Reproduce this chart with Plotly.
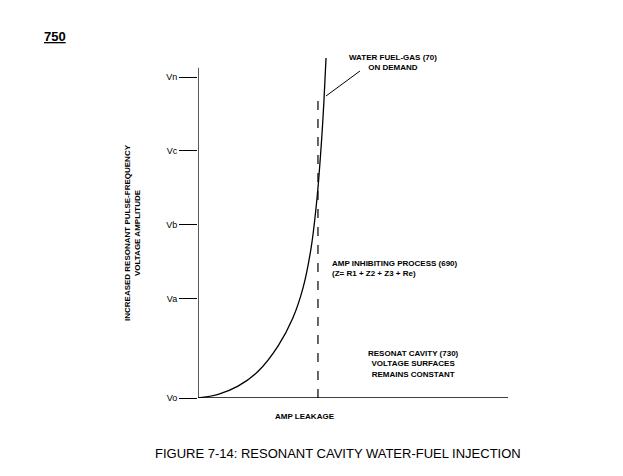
import plotly.graph_objects as go

tick_labels = ["Vo", "Va", "Vb", "Vc", "Vn"]
tick_vals = [0, 1.34, 2.34, 3.34, 4.33]
curve_x = [0, 6.5, 12.9, 19.4, 25.8, 30.6, 33.9, 36.5, 38.4, 39.7, 40.6, 41.3]
curve_y = [0, 0.05, 0.16, 0.36, 0.70, 1.08, 1.49, 2.03, 2.70, 3.38, 3.99, 4.59]
dash_x = 38.7

F = "Liberation Sans"
fig = go.Figure()
fig.add_trace(go.Scatter(x=curve_x, y=curve_y, mode="lines", line=dict(color="black", width=1.3, shape="spline"), hoverinfo="skip"))
fig.add_trace(go.Scatter(x=[dash_x, dash_x], y=[0, 4.1], mode="lines", line=dict(color="black", width=1.2, dash="dash"), hoverinfo="skip"))

fig.update_layout(
    width=623, height=476, showlegend=False,
    margin=dict(l=190, r=123, t=50, b=86),
    paper_bgcolor="white", plot_bgcolor="white",
    font=dict(family=F, color="black", size=9),
    xaxis=dict(range=[0, 100], showgrid=False, zeroline=False, showticklabels=False, ticks="",
               showline=False),
    yaxis=dict(range=[0, 4.59], showgrid=False, zeroline=False, tickvals=tick_vals, ticktext=tick_labels,
               ticks="outside", ticklen=18, tickcolor="black", tickfont=dict(family=F, size=9)),
)
fig.add_shape(type="line", x0=0, x1=0, y0=0, y1=4.46, line=dict(color="black", width=1.3))
fig.add_shape(type="line", x0=0, x1=100, y0=0, y1=0, line=dict(color="black", width=1.3))
# leader line
fig.add_shape(type="line", xref="paper", yref="paper", x0=(352-190)/310, y0=(390-63)/340,
              x1=(318-190)/310, y1=(390-88)/340, line=dict(color="black", width=1))

def ann(x, y, text, size=9, xanchor="center", bold=True, **kw):
    fig.add_annotation(xref="paper", yref="paper", x=(x-190)/310, y=(390-y)/340, text=f"<b>{text}</b>" if bold else text,
                       showarrow=False, xanchor=xanchor, yanchor="middle", font=dict(family=F, size=size), **kw)

ann(385, 55, "WATER FUEL-GAS (70)<br>ON DEMAND", size=8)
ann(322, 260, "AMP INHIBITING PROCESS (690)<br>(Z= R1 + Z2 + Z3 + Re)", size=8, xanchor="left", align="left")
ann(405, 356, "RESONAT CAVITY (730)<br>VOLTAGE SURFACES<br>REMAINS CONSTANT", size=8)
ann(297, 408, "AMP LEAKAGE", size=8)
ann(125, 225, "INCREASED RESONANT PULSE-FREQUENCY<br>VOLTAGE AMPLITUDE", size=8, textangle=-90)
ann(330, 445, "FIGURE 7-14: RESONANT CAVITY WATER-FUEL INJECTION", size=13, bold=False)
ann(47, 28, "<u>750</u>", size=13)
fig.add_annotation(xref="x", yref="y", x=72.6, y=-0.243, ax=54.2, ay=-0.243,
                   axref="x", ayref="y", showarrow=True, arrowhead=2, arrowsize=1, arrowwidth=1, text="")
fig.write_html("out.html")
